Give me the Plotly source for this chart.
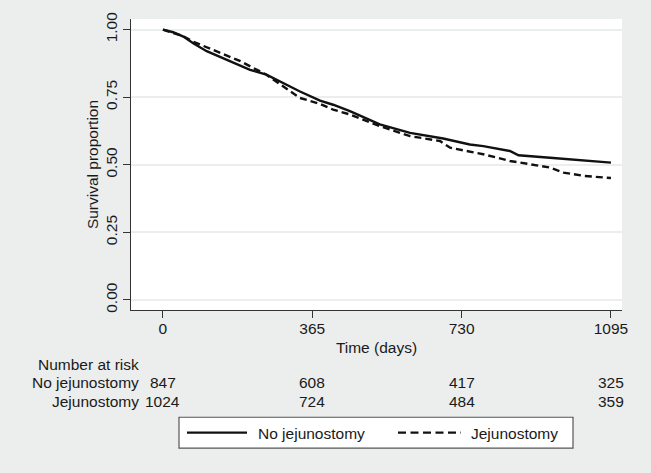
import plotly.graph_objects as go

# ---- data ----
times_no = [0, 25, 50, 74, 107, 139, 172, 213, 253, 294, 335, 384, 416, 457, 530, 604, 685, 750, 783, 848, 869, 946, 1028, 1095]
surv_no = [1.0, 0.99, 0.974, 0.949, 0.92, 0.90, 0.879, 0.851, 0.833, 0.802, 0.771, 0.737, 0.722, 0.698, 0.649, 0.618, 0.597, 0.575, 0.569, 0.551, 0.535, 0.526, 0.517, 0.508]

times_j = [0, 50, 74, 131, 188, 253, 294, 335, 384, 416, 457, 530, 604, 677, 702, 750, 783, 848, 946, 979, 1028, 1095]
surv_j = [1.0, 0.975, 0.955, 0.92, 0.884, 0.833, 0.79, 0.747, 0.725, 0.704, 0.686, 0.643, 0.606, 0.588, 0.563, 0.548, 0.539, 0.514, 0.49, 0.471, 0.459, 0.451]

x_ticks = [0, 365, 730, 1095]
y_ticks = [0.0, 0.25, 0.5, 0.75, 1.0]
y_tick_labels = ["0.00", "0.25", "0.50", "0.75", "1.00"]

group_names = ["No jejunostomy", "Jejunostomy"]
risk_no = [847, 608, 417, 325]
risk_j = [1024, 724, 484, 359]

# ---- layout geometry (pixels) ----
W, H = 651, 473
L, R, T, B = 131, 29, 17, 163
plot_h = H - T - B
plot_w = W - L - R

def py(pix):  # pixel y -> paper y
    return (H - B - pix) / plot_h

def px(pix):  # pixel x -> paper x
    return (pix - L) / plot_w

FONT = "Liberation Sans, Arial, Helvetica, sans-serif"
TXT = "#1a1a1a"
FS = 15.5

fig = go.Figure()
fig.add_trace(go.Scatter(x=times_no, y=surv_no, mode="lines", name=group_names[0],
                         line=dict(color="#111111", width=2.4), showlegend=False))
fig.add_trace(go.Scatter(x=times_j, y=surv_j, mode="lines", name=group_names[1],
                         line=dict(color="#111111", width=2.4, dash="7px,4px"), showlegend=False))

annotations = []
# Number at risk table
annotations.append(dict(text="Number at risk", xref="paper", yref="paper", x=px(141), y=py(365),
                        xanchor="right", yanchor="middle", showarrow=False, font=dict(size=FS, color=TXT)))
for name, row, ypix in [(group_names[0], risk_no, 383.5), (group_names[1], risk_j, 402)]:
    annotations.append(dict(text=name, xref="paper", yref="paper", x=px(141), y=py(ypix),
                            xanchor="right", yanchor="middle", showarrow=False, font=dict(size=FS, color=TXT)))
    for t, n in zip(x_ticks, row):
        annotations.append(dict(text=str(n), xref="x", yref="paper", x=t, y=py(ypix),
                                xanchor="center", yanchor="middle", showarrow=False,
                                font=dict(size=FS, color=TXT)))

# Manual legend box
shapes = [
    dict(type="rect", xref="paper", yref="paper", x0=px(179), x1=px(573), y0=py(449), y1=py(418),
         fillcolor="white", line=dict(color="#555555", width=1.2), layer="above"),
    dict(type="line", xref="paper", yref="paper", x0=px(187), x1=px(247), y0=py(433.5), y1=py(433.5),
         line=dict(color="#111111", width=2.2), layer="above"),
    dict(type="line", xref="paper", yref="paper", x0=px(398), x1=px(461), y0=py(433.5), y1=py(433.5),
         line=dict(color="#111111", width=2.2, dash="8px,4.5px"), layer="above"),
]
annotations.append(dict(text=group_names[0], xref="paper", yref="paper", x=px(256), y=py(434),
                        xanchor="left", yanchor="middle", showarrow=False, font=dict(size=FS, color=TXT)))
annotations.append(dict(text=group_names[1], xref="paper", yref="paper", x=px(469), y=py(434),
                        xanchor="left", yanchor="middle", showarrow=False, font=dict(size=FS, color=TXT)))

fig.update_layout(
    width=W, height=H,
    margin=dict(l=L, r=R, t=T, b=B, pad=0),
    paper_bgcolor="#eceeee",
    plot_bgcolor="white",
    font=dict(family=FONT, size=FS, color=TXT),
    annotations=annotations,
    shapes=shapes,
    showlegend=False,
)
fig.update_xaxes(
    range=[-78, 1122], tickvals=x_ticks, ticktext=[str(v) for v in x_ticks],
    showgrid=False, zeroline=False, showline=True, linecolor="#333333", linewidth=1.2,
    ticks="outside", ticklen=7, tickwidth=1.2, tickcolor="#333333",
    tickfont=dict(size=FS, color=TXT), ticklabelstandoff=-3,
    title=dict(text="Time (days)", font=dict(size=FS, color=TXT), standoff=6),
)
fig.update_yaxes(
    range=[-0.037, 1.039], tickvals=y_ticks, ticktext=y_tick_labels, tickangle=-90,
    showgrid=True, gridcolor="#eaeeee", gridwidth=1.5, zeroline=False,
    showline=True, linecolor="#333333", linewidth=1.2,
    ticks="outside", ticklen=7, tickwidth=1.2, tickcolor="#333333",
    tickfont=dict(size=FS, color=TXT),
    title=dict(text="Survival proportion", font=dict(size=FS, color=TXT), standoff=0),
)

fig.write_html("out.html", config={"displayModeBar": False},
               post_script="document.body.style.margin='0';document.body.style.padding='0';")
